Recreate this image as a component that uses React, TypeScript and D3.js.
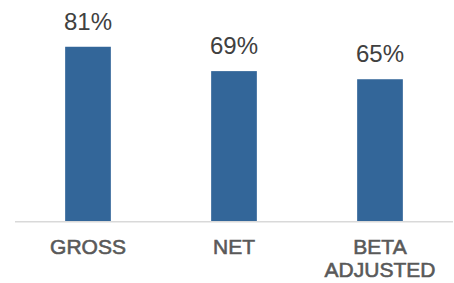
import * as d3 from 'd3'

const categories = ['GROSS', 'NET', 'BETA ADJUSTED']
const categoryLines = [['GROSS'], ['NET'], ['BETA', 'ADJUSTED']]
const values = [81, 69, 65]
const valueLabels = ['81%', '69%', '65%']

const W = 454
const H = 283
const X0 = 15
const X1 = 453
const BASE = 221.3

export default function App() {
  const x = d3.scaleBand<string>()
    .domain(categories)
    .range([X0, X1])
    .paddingInner(0.687)
    .paddingOuter(0.3435)

  const y = d3.scaleLinear().domain([-5, 100]).range([BASE, 8.2])

  return (
    <svg
      width={W}
      height={H}
      style={{ position: 'absolute', left: 0, top: 0, background: '#fff' }}
      fontFamily="'Liberation Sans', Arial, sans-serif"
    >
      {categories.map((c, i) => (
        <rect
          key={c}
          x={x(c)}
          y={y(values[i])}
          width={x.bandwidth()}
          height={BASE - y(values[i])}
          fill="#336699"
        />
      ))}
      <line x1={X0} x2={X1} y1={BASE + 0.5} y2={BASE + 0.5} stroke="#d9d9d9" strokeWidth={1.5} />
      {categories.map((c, i) => (
        <text
          key={c + 'v'}
          x={(x(c) ?? 0) + x.bandwidth() / 2}
          y={y(values[i]) - 17}
          textAnchor="middle"
          fontSize={24}
          fill="#404040"
        >
          {valueLabels[i]}
        </text>
      ))}
      {categories.map((c, i) => (
        <text
          key={c + 'c'}
          x={(x(c) ?? 0) + x.bandwidth() / 2}
          y={254}
          textAnchor="middle"
          fontSize={21}
          fill="#595959"
          stroke="#595959"
          strokeWidth={0.6}
        >
          {categoryLines[i].map((l, j) => (
            <tspan key={l} x={(x(c) ?? 0) + x.bandwidth() / 2} dy={j === 0 ? 0 : 23}>
              {l}
            </tspan>
          ))}
        </text>
      ))}
    </svg>
  )
}
